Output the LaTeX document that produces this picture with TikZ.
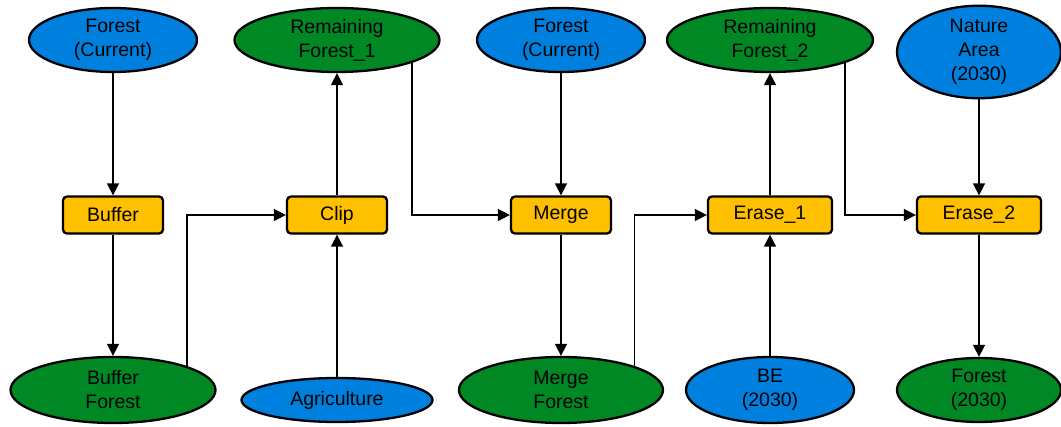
\documentclass[tikz,border=0pt]{standalone}
\usepackage{fontspec}
\setmainfont{Liberation Sans}
\usetikzlibrary{shapes.geometric,arrows.meta}
\definecolor{inblue}{RGB}{0,128,222}
\definecolor{outgreen}{RGB}{0,136,36}
\definecolor{toolgold}{RGB}{255,192,0}
\begin{document}
\begin{tikzpicture}[x=1pt,y=-1pt,
        font=\fontsize{19.5}{24}\selectfont,
        data/.style={ellipse,draw=black,line width=2.3pt,inner sep=0pt,align=center},
        input/.style={data,fill=inblue},
        output/.style={data,fill=outgreen},
        tool/.style={rectangle,rounded corners=4pt,draw=black,line width=2.3pt,fill=toolgold,minimum height=37pt,inner sep=0pt},
        flow/.style={line width=1.6pt,-{Triangle[length=12pt,width=12pt]}}]
                \useasboundingbox (0,0) rectangle (1061,427);
                \node[input,minimum width=168pt,minimum height=64pt] (forestA) at (113,40) {Forest\\(Current)};
                \node[output,minimum width=205pt,minimum height=64pt] (remainA) at (337,40) {Remaining\\Forest\_1};
                \node[input,minimum width=168pt,minimum height=64pt] (forestB) at (561,40) {Forest\\(Current)};
                \node[output,minimum width=206pt,minimum height=64pt] (remainB) at (770,40) {Remaining\\Forest\_2};
                \node[input,minimum width=164pt,minimum height=88pt] (nature) at (979,52) {Nature\\Area\\(2030)};
                \node[tool,minimum width=100pt] (buffer) at (113,215) {Buffer};
                \node[tool,minimum width=100pt] (clip) at (337,215) {Clip};
                \node[tool,minimum width=100pt] (merge) at (561,215) {Merge};
                \node[tool,minimum width=124pt] (eraseA) at (770,215) {Erase\_1};
                \node[tool,minimum width=124pt] (eraseB) at (979,215) {Erase\_2};
                \node[output,minimum width=205pt,minimum height=66pt] (bufforest) at (113,390) {Buffer\\Forest};
                \node[input,minimum width=191pt,minimum height=44pt] (agri) at (337,400) {Agriculture};
                \node[output,minimum width=204pt,minimum height=66pt] (mergeforest) at (561,390) {Merge\\Forest};
                \node[input,minimum width=168pt,minimum height=66pt] (be) at (770,390) {BE\\(2030)};
                \node[output,minimum width=164pt,minimum height=64pt] (forest30) at (979,390) {Forest\\(2030)};
                \draw[flow] (forestA) -- (buffer);
                \draw[flow] (buffer) -- (bufforest);
                \draw[flow] (bufforest.18) |- (clip.west);
                \draw[flow] (agri) -- (clip);
                \draw[flow] (clip) -- (remainA);
                \draw[flow] (remainA.-17) |- (merge.west);
                \draw[flow] (forestB) -- (merge);
                \draw[flow] (merge) -- (mergeforest);
                \draw[flow] (mergeforest.18) |- (eraseA.west);
                \draw[flow] (be) -- (eraseA);
                \draw[flow] (eraseA) -- (remainB);
                \draw[flow] (remainB.-17) |- (eraseB.west);
                \draw[flow] (nature) -- (eraseB);
                \draw[flow] (eraseB) -- (forest30);
            \end{tikzpicture}
\end{document}
